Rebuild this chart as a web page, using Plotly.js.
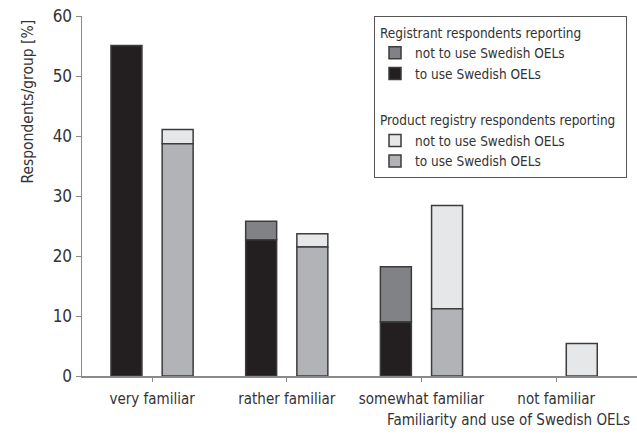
<!DOCTYPE html>
<html>
<head>
<meta charset="utf-8">
<script src="https://cdn.plot.ly/plotly-3.0.1.min.js"></script>
<style>html,body{margin:0;padding:0;background:#fff;}#chart{width:637px;height:439px;}</style>
</head>
<body>
<div id="chart"></div>
<script>
const categories = ['very familiar', 'rather familiar', 'somewhat familiar', 'not familiar'];
const regToUse = [55.1, 22.7, 9.0, 0];
const regNotUse = [0, 3.1, 9.2, 0];
const prodToUse = [38.7, 21.5, 11.2, 0];
const prodNotUse = [2.4, 2.2, 17.2, 5.4];
const yTicks = [0, 10, 20, 30, 40, 50, 60];

const FONT = '"DejaVu Sans Condensed", "Liberation Sans Narrow", "Roboto", sans-serif';
const TXT = '#333333';
const AX = '#8a8a8a';
const OUT = '#3c3c3c';
const W = 0.23;

function nz(arr) { return arr.map(v => (v === 0 ? null : v)); }

function bar(name, y, base, color, offset, group, title) {
  const t = {
    type: 'bar', name: name, x: categories, y: nz(y), base: base,
    width: W, offset: offset,
    marker: {color: color, line: {color: OUT, width: 1.5}},
    legendgroup: group,
    hoverinfo: 'skip'
  };
  if (title) t.legendgrouptitle = {text: title, font: {family: FONT, size: 13.5, color: TXT}};
  return t;
}

const data = [
  bar('not to use Swedish OELs', regNotUse, regToUse, '#808285', -0.305, 'reg', 'Registrant respondents reporting'),
  bar('to use Swedish OELs', regToUse, null, '#231f20', -0.305, 'reg'),
  bar('not to use Swedish OELs', prodNotUse, prodToUse, '#e6e7e8', 0.075, 'prod', 'Product registry respondents reporting'),
  bar('to use Swedish OELs', prodToUse, null, '#b1b3b6', 0.075, 'prod')
];

const layout = {
  width: 637, height: 439,
  margin: {l: 82, r: 0, t: 15.5, b: 63.3, pad: 0},
  paper_bgcolor: '#fff', plot_bgcolor: '#fff',
  barmode: 'overlay',
  font: {family: FONT, color: TXT, size: 15},
  xaxis: {
    type: 'category', range: [-0.52, 3.6],
    showline: true, linecolor: AX, linewidth: 1.5,
    ticks: 'outside', ticklen: 4, tickcolor: AX, tickwidth: 1,
    ticklabelstandoff: 4,
    tickfont: {family: FONT, size: 15, color: TXT},
    showgrid: false, zeroline: false, fixedrange: true
  },
  yaxis: {
    range: [0, 60], tickvals: yTicks,
    showline: true, linecolor: AX, linewidth: 1.5,
    ticks: 'outside', ticklen: 5, tickcolor: AX, tickwidth: 1,
    tickfont: {family: FONT, size: 17, color: TXT},
    showgrid: false, zeroline: false, fixedrange: true
  },
  legend: {
    x: 0.982, y: 1, xanchor: 'right', yanchor: 'top',
    bgcolor: '#fff', bordercolor: '#555', borderwidth: 1,
    traceorder: 'grouped', tracegroupgap: 26,
    font: {family: FONT, size: 13.5, color: TXT},
    itemwidth: 30
  },
  showlegend: true,
  annotations: [
    {text: 'Respondents/group [%]', textangle: -90, xref: 'paper', yref: 'paper',
     x: -0.097, y: 0.996, xanchor: 'center', yanchor: 'top', showarrow: false,
     font: {family: FONT, size: 15.5, color: TXT}},
    {text: 'Familiarity and use of Swedish OELs', xref: 'paper', yref: 'paper',
     x: 0.991, y: -0.122, xanchor: 'right', yanchor: 'middle', showarrow: false,
     font: {family: FONT, size: 15, color: TXT}}
  ]
};

Plotly.newPlot('chart', data, layout, {displayModeBar: false, staticPlot: true});
</script>
</body>
</html>
